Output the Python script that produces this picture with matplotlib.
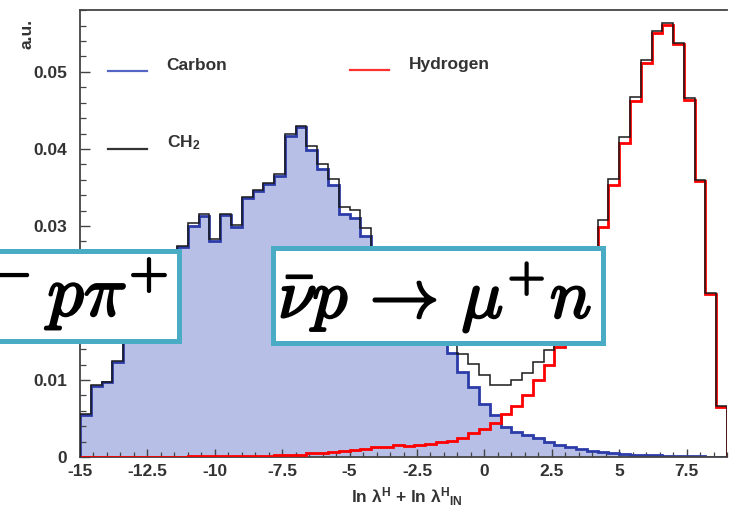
import numpy as np
import matplotlib
matplotlib.use('Agg')
import matplotlib.pyplot as plt
from matplotlib.patches import Rectangle
from matplotlib.lines import Line2D
import matplotlib.patheffects as pe
from matplotlib.ticker import FixedLocator, MultipleLocator

# ---------------- data ----------------
x_min, x_max, n_bins = -15.0, 9.0, 60
bin_edges = np.linspace(x_min, x_max, n_bins + 1)

carbon = [0.0055, 0.0092, 0.0097, 0.0123, 0.0160, 0.0190, 0.0215, 0.0240, 0.0260, 0.0273,
          0.0300, 0.0313, 0.0281, 0.0314, 0.0299, 0.0336, 0.0345, 0.0354, 0.0365, 0.0417,
          0.0428, 0.0399, 0.0374, 0.0353, 0.0315, 0.0310, 0.0287, 0.0262, 0.0240, 0.0218,
          0.0198, 0.0178, 0.0162, 0.0150, 0.0135, 0.0110, 0.0091, 0.0069, 0.0054, 0.0039,
          0.0033, 0.0029, 0.0025, 0.0020, 0.0016, 0.0013, 0.0011, 0.0008, 0.0006, 0.0005,
          0.0004, 0.0003, 0.00025, 0.0002, 0.00015, 0.0001, 0.0001, 0.0001, 0.00005, 0.00005]

hydrogen = [0.00005, 0.00005, 0.00005, 0.00005, 0.00005, 0.00005, 0.00005, 0.00005, 0.00005, 0.00005,
            0.0001, 0.0001, 0.0001, 0.0001, 0.0001, 0.00015, 0.00015, 0.00015, 0.00025, 0.00025,
            0.0003, 0.0005, 0.0005, 0.0006, 0.0008, 0.0009, 0.0010, 0.0013, 0.0013, 0.0016,
            0.0014, 0.0016, 0.0017, 0.0019, 0.0021, 0.0025, 0.0031, 0.0037, 0.0044, 0.0056,
            0.0066, 0.0080, 0.0100, 0.0120, 0.0143, 0.0180, 0.0215, 0.0255, 0.0299, 0.0353,
            0.0408, 0.0462, 0.0511, 0.0550, 0.0561, 0.0536, 0.0464, 0.0358, 0.0212, 0.0065]

ch2 = [0.0056, 0.0093, 0.0098, 0.0124, 0.0162, 0.0192, 0.0217, 0.0242, 0.0262, 0.0274,
       0.0304, 0.0315, 0.0283, 0.0315, 0.0301, 0.0338, 0.0347, 0.0356, 0.0367, 0.0420,
       0.0430, 0.0404, 0.0380, 0.0361, 0.0324, 0.0321, 0.0297, 0.0268, 0.0248, 0.0228,
       0.0210, 0.0195, 0.0180, 0.0168, 0.0155, 0.0134, 0.0121, 0.0107, 0.0094, 0.0094,
       0.0100, 0.0109, 0.0123, 0.0139, 0.0158, 0.0192, 0.0226, 0.0263, 0.0308, 0.0361,
       0.0416, 0.0468, 0.0516, 0.0553, 0.0564, 0.0538, 0.0466, 0.0359, 0.0213, 0.0066]

x_ticks = [-15, -12.5, -10, -7.5, -5, -2.5, 0, 2.5, 5, 7.5]
x_tick_labels = ['-15', '-12.5', '-10', '-7.5', '-5', '-2.5', '0', '2.5', '5', '7.5']
y_ticks = [0, 0.01, 0.02, 0.03, 0.04, 0.05]
# the 0.02 label is hidden behind the overlay box in the reference
y_tick_labels = ['0', '0.01', '', '0.03', '0.04', '0.05']

legend_labels = ['Carbon', 'Hydrogen', 'CH$_{2}$']
box_left_text = r'$^{-}\,p\pi^{+}$'
box_right_text = r'$\bar{\nu}p\,\rightarrow\,\mu^{+}n$'
x_label = r'ln λ$^{H}$ + ln λ$^{H}$$_{IN}$'
y_label = 'a.u.'

# ---------------- style ----------------
plt.rcParams['font.family'] = ['Liberation Sans', 'DejaVu Sans']
plt.rcParams['font.weight'] = 'bold'
plt.rcParams['mathtext.fontset'] = 'custom'
plt.rcParams['mathtext.rm'] = 'Liberation Sans:bold'
plt.rcParams['mathtext.it'] = 'Liberation Sans:bold'
plt.rcParams['mathtext.bf'] = 'Liberation Sans:bold'

W, H = 731, 508
txt_color = '#333333'
fill_color = '#b7bfe7'
blue_line = '#2b3ca8'
teal = '#4aabc4'


def fx(px):
    return px / W


def fy(py):
    return 1 - py / H


fig = plt.figure(figsize=(W / 100, H / 100), dpi=100)
ax = fig.add_axes([fx(80), fy(457), (727 - 80) / W, (457 - 9.5) / H])

ax.stairs(carbon, bin_edges, fill=True, color=fill_color, lw=0, zorder=1)
ax.stairs(carbon, bin_edges, color=blue_line, lw=2.0, zorder=2)
ax.stairs(hydrogen, bin_edges, color='#ff0000', lw=2.0, zorder=3)
ax.stairs(ch2, bin_edges, color='#1a1a1a', lw=1.1, zorder=4)

ax.set_xlim(x_min, x_max)
ax.set_ylim(0, 0.0581)

ax.xaxis.set_major_locator(FixedLocator(x_ticks))
ax.set_xticklabels(x_tick_labels)
ax.xaxis.set_minor_locator(MultipleLocator(0.5))
ax.yaxis.set_major_locator(FixedLocator(y_ticks))
ax.set_yticklabels(y_tick_labels)
ax.yaxis.set_minor_locator(MultipleLocator(0.002))

ax.tick_params(axis='both', which='both', direction='in', top=False, right=False,
               color='#444444', labelcolor=txt_color, labelsize=12.5)
ax.tick_params(axis='y', which='major', length=7, width=1.0, pad=9)
ax.tick_params(axis='y', which='minor', length=4, width=0.9)
ax.tick_params(axis='x', which='major', length=6, width=1.0, pad=5)
ax.tick_params(axis='x', which='minor', length=3.5, width=0.9)

for side in ['left', 'bottom', 'top']:
    ax.spines[side].set_color('#444444')
    ax.spines[side].set_linewidth(1.3)
ax.spines['right'].set_visible(False)

# legend (manual, ROOT style)
legend_colors = ['#5566c4', '#ff3030', '#333333']
legend_pos = [(108, 166.7, 70.7, 65), (350, 409, 70, 65), (108, 166.7, 149, 143)]
for lab, col, (lx, tx, ly, ty) in zip(legend_labels, legend_colors, legend_pos):
    fig.add_artist(Line2D([fx(lx), fx(lx + 39)], [fy(ly), fy(ly)],
                          transform=fig.transFigure, color=col, lw=1.6))
    fig.text(fx(tx), fy(ty), lab, ha='left', va='center', fontsize=12.5,
             color=txt_color, weight='bold')

fig.text(fx(27), fy(19), y_label, rotation=90, ha='center', va='top',
         fontsize=12.5, color=txt_color, weight='bold')
fig.text(fx(463), fy(503), x_label, ha='right', va='baseline',
         fontsize=12.5, color=txt_color, weight='bold')

# overlay boxes
for (x0, y0, x1, y1) in [(-10, 250.5, 178.5, 340.5), (273.2, 247.5, 602.5, 342.5)]:
    fig.add_artist(Rectangle((fx(x0), fy(y1)), (x1 - x0) / W, (y1 - y0) / H,
                             transform=fig.transFigure, facecolor='white',
                             edgecolor=teal, linewidth=3.6, zorder=5))

stroke = [pe.withStroke(linewidth=1.6, foreground='black')]
fig.text(fx(168), fy(316), box_left_text, ha='right', va='baseline', fontsize=52,
         math_fontfamily='cm', color='black', path_effects=stroke, zorder=6)
fig.text(fx(435), fy(318), box_right_text, ha='center', va='baseline', fontsize=50,
         math_fontfamily='cm', color='black', path_effects=stroke, zorder=6)

fig.savefig('out.png', dpi=100)
